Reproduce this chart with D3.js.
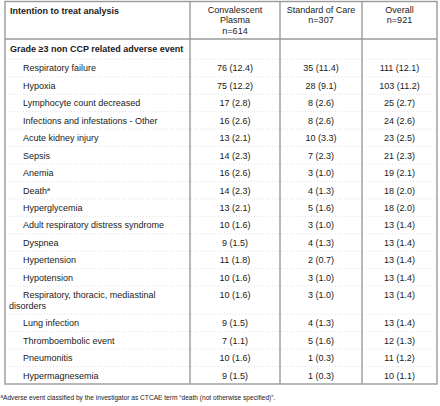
<!DOCTYPE html>
<html>
<head>
<meta charset="utf-8">
<script src="https://cdn.jsdelivr.net/npm/d3@7"></script>
<style>
  html, body { margin: 0; padding: 0; background: #fff; }
  svg { display: block; }
  text { font-family: "Liberation Sans", Arial, sans-serif; fill: #1a1a1a; }
</style>
</head>
<body>
<svg id="chart" width="440" height="406"></svg>
<script>
// ---- data ----
const titleText = "Intention to treat analysis";
const sectionText = "Grade \u22653 non CCP related adverse event";
const columnHeaders = [
  ["Convalescent", "Plasma", "n=614"],
  ["Standard of Care", "n=307"],
  ["Overall", "n=921"]
];
const categories = [
  "Respiratory failure", "Hypoxia", "Lymphocyte count decreased",
  "Infections and infestations - Other", "Acute kidney injury", "Sepsis",
  "Anemia", "Death", "Hyperglycemia", "Adult respiratory distress syndrome",
  "Dyspnea", "Hypertension", "Hypotension",
  "Respiratory, thoracic, mediastinal\ndisorders",
  "Lung infection", "Thromboembolic event", "Pneumonitis", "Hypermagnesemia"
];
const categoryNotes = ["", "", "", "", "", "", "", "a", "", "", "", "", "", "", "", "", "", ""];
const cpCounts   = [76, 75, 17, 16, 13, 14, 16, 14, 13, 10, 9, 11, 10, 10, 9, 7, 10, 9];
const cpPct      = [12.4, 12.2, 2.8, 2.6, 2.1, 2.3, 2.6, 2.3, 2.1, 1.6, 1.5, 1.8, 1.6, 1.6, 1.5, 1.1, 1.6, 1.5];
const socCounts  = [35, 28, 8, 8, 10, 7, 3, 4, 5, 3, 4, 2, 3, 3, 4, 5, 1, 1];
const socPct     = [11.4, 9.1, 2.6, 2.6, 3.3, 2.3, 1.0, 1.3, 1.6, 1.0, 1.3, 0.7, 1.0, 1.0, 1.3, 1.6, 0.3, 0.3];
const allCounts  = [111, 103, 25, 24, 23, 21, 19, 18, 18, 13, 13, 13, 13, 13, 13, 12, 11, 10];
const allPct     = [12.1, 11.2, 2.7, 2.6, 2.5, 2.3, 2.1, 2.0, 2.0, 1.4, 1.4, 1.4, 1.4, 1.4, 1.4, 1.3, 1.2, 1.1];
const footnoteMark = "a";
const footnoteText = "Adverse event classified by the investigator as CTCAE term \u201cdeath (not otherwise specified)\u201d.";

// ---- layout ----
const svg = d3.select("#chart");
const colEdges = [5, 190, 280, 362, 437];
const tableTop = 1.5, headerBottom = 39, sectionBottom = 59.3;
const rowH = 17.45, lineExtra = 10.6;
const fs = 9;
const lineColor = "#9a9a9a";
const fmt = d3.format(".1f");

const rowLines = categories.map(c => c.split("\n").length);
const rowHeights = rowLines.map(n => rowH + (n - 1) * lineExtra);
const rowTops = d3.cumsum([0].concat(rowHeights.slice(0, -1))).map(v => v + sectionBottom);
const tableBottom = sectionBottom + d3.sum(rowHeights);

const idx = d3.range(categories.length);
const y = d3.scaleOrdinal().domain(idx).range(rowTops);
const colCenter = i => (colEdges[i] + colEdges[i + 1]) / 2;

// faint dotted row separators
const gSep = svg.append("g");
idx.slice(1).forEach(i => {
  gSep.append("line")
    .attr("x1", colEdges[0]).attr("x2", colEdges[4])
    .attr("y1", y(i)).attr("y2", y(i))
    .attr("stroke", "#d8d8d8").attr("stroke-width", 0.8)
    .attr("stroke-dasharray", "1,2");
});
gSep.append("line")
  .attr("x1", colEdges[0]).attr("x2", colEdges[4])
  .attr("y1", sectionBottom).attr("y2", sectionBottom)
  .attr("stroke", "#d8d8d8").attr("stroke-width", 0.8)
  .attr("stroke-dasharray", "1,2");

// grid lines
const g = svg.append("g").attr("stroke", lineColor).attr("stroke-width", 1.4).attr("fill", "none");
g.append("rect")
  .attr("x", colEdges[0]).attr("y", tableTop)
  .attr("width", colEdges[4] - colEdges[0]).attr("height", tableBottom - tableTop);
colEdges.slice(1, 4).forEach(x => {
  g.append("line").attr("x1", x).attr("x2", x).attr("y1", tableTop).attr("y2", tableBottom);
});
g.append("line").attr("x1", colEdges[0]).attr("x2", colEdges[4])
  .attr("y1", headerBottom).attr("y2", headerBottom);

// header texts
const base = c => c + 3.3;
svg.append("text").attr("x", 10).attr("y", base(11))
  .attr("font-size", fs).attr("font-weight", "bold").text(titleText);

const headerLineY = [9.5, 20, 30.5];
columnHeaders.forEach((lines, ci) => {
  lines.forEach((t, li) => {
    svg.append("text")
      .attr("x", colCenter(ci + 1)).attr("y", base(headerLineY[li]))
      .attr("text-anchor", "middle").attr("font-size", fs).text(t);
  });
});

// section row
svg.append("text").attr("x", 10).attr("y", base(48.5))
  .attr("font-size", fs).attr("font-weight", "bold").text(sectionText);

// body rows
idx.forEach(i => {
  const top = y(i);
  const c1 = top + 8.8;
  const lines = categories[i].split("\n");
  lines.forEach((t, li) => {
    const tx = svg.append("text")
      .attr("x", li === 0 ? 23 : 9)
      .attr("y", base(c1 + li * lineExtra))
      .attr("font-size", fs).text(t);
    if (li === 0 && categoryNotes[i]) {
      tx.append("tspan").attr("font-size", 5.5).attr("dy", -3).text(categoryNotes[i]);
    }
  });
  const vals = [
    [cpCounts[i], cpPct[i]],
    [socCounts[i], socPct[i]],
    [allCounts[i], allPct[i]]
  ];
  vals.forEach((v, ci) => {
    svg.append("text")
      .attr("x", colCenter(ci + 1)).attr("y", base(c1))
      .attr("text-anchor", "middle").attr("font-size", fs)
      .text(`${v[0]} (${fmt(v[1])})`);
  });
});

// footnote
const fn = svg.append("text").attr("x", 0.5).attr("y", 400).attr("font-size", 6.6);
fn.append("tspan").attr("font-size", 4.5).attr("dy", -2).text(footnoteMark);
fn.append("tspan").attr("dy", 2).text(footnoteText);
</script>
</body>
</html>
